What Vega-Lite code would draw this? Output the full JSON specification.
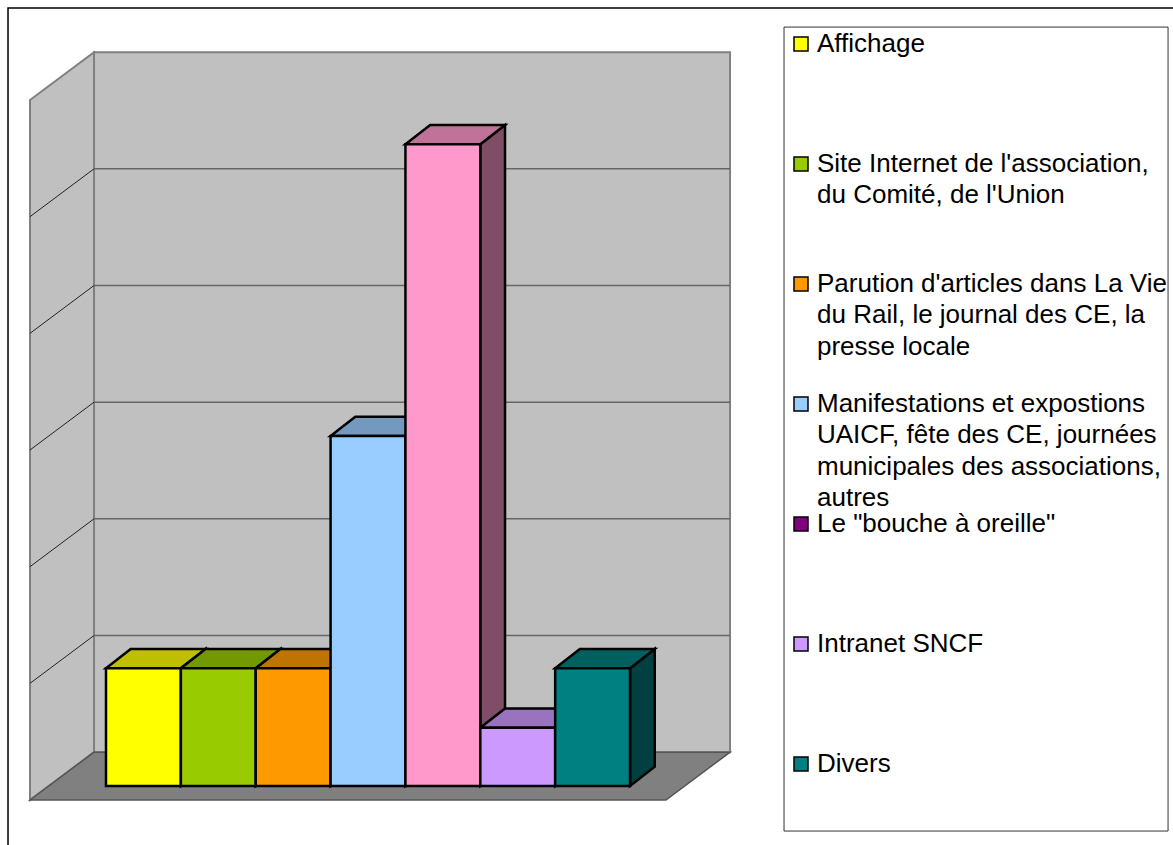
{
"$schema":"https://vega.github.io/schema/vega-lite/v6.json",
"width":1173,"height":845,"autosize":{"type":"none"},"padding":0,"background":"white",
"config":{"view":{"stroke":null},"style":{"guide-label":{"lineHeight":31.3,"dy":8}}},
"datasets":{
"bars":[
{"category":"Affichage","position":0,"end":1,"value":1.01},
{"category":"Site Internet de l'association,\ndu Comité, de l'Union","position":1,"end":2,"value":1.01},
{"category":"Parution d'articles dans La Vie\ndu Rail, le journal des CE, la\npresse locale","position":2,"end":3,"value":1.01},
{"category":"Manifestations et expostions\nUAICF, fête des CE, journées\nmunicipales des associations,\nautres","position":3,"end":4,"value":3},
{"category":"Le \"bouche à oreille\"","position":4,"end":5,"value":5.5},
{"category":"Intranet SNCF","position":5,"end":6,"value":0.5},
{"category":"Divers","position":6,"end":7,"value":1.01}
],
"side":[
{"c":"a","x":1,"hi":1.01,"lo":0},{"c":"a","x":1.33,"hi":1.175,"lo":0.165},
{"c":"b","x":2,"hi":1.01,"lo":0},{"c":"b","x":2.33,"hi":1.175,"lo":0.165},
{"c":"c","x":3,"hi":1.01,"lo":0},{"c":"c","x":3.33,"hi":1.175,"lo":0.165},
{"c":"d","x":4,"hi":3,"lo":0},{"c":"d","x":4.33,"hi":3.165,"lo":0.165},
{"c":"e","x":5,"hi":5.5,"lo":0},{"c":"e","x":5.33,"hi":5.665,"lo":0.165},
{"c":"f","x":6,"hi":0.5,"lo":0},{"c":"f","x":6.33,"hi":0.665,"lo":0.165},
{"c":"g","x":7,"hi":1.01,"lo":0},{"c":"g","x":7.33,"hi":1.175,"lo":0.165}
],
"top":[
{"c":"a","y":1.01,"x":0,"x2":1},{"c":"a","y":1.175,"x":0.33,"x2":1.33},
{"c":"b","y":1.01,"x":1,"x2":2},{"c":"b","y":1.175,"x":1.33,"x2":2.33},
{"c":"c","y":1.01,"x":2,"x2":3},{"c":"c","y":1.175,"x":2.33,"x2":3.33},
{"c":"d","y":3,"x":3,"x2":4},{"c":"d","y":3.165,"x":3.33,"x2":4.33},
{"c":"e","y":5.5,"x":4,"x2":5},{"c":"e","y":5.665,"x":4.33,"x2":5.33},
{"c":"f","y":0.5,"x":5,"x2":6},{"c":"f","y":0.665,"x":5.33,"x2":6.33},
{"c":"g","y":1.01,"x":6,"x2":7},{"c":"g","y":1.175,"x":6.33,"x2":7.33}
]
},
"encoding":{
"x":{"type":"quantitative","scale":{"domain":[-1.416,14.253],"nice":false,"zero":false},"axis":null},
"y":{"type":"quantitative","scale":{"domain":[-0.5057,6.737],"nice":false,"zero":false},"axis":null}
},
"layer":[
{"data":{"values":[{"x":-1.309,"x2":14.3,"y":6.668,"y2":-0.55}]},"mark":{"type":"rect","fill":"white","stroke":"black","strokeWidth":1.5},
 "encoding":{"x":{"field":"x"},"x2":{"field":"x2"},"y":{"field":"y"},"y2":{"field":"y2"}}},
{"data":{"values":[{"x":9.057,"x2":14.187,"y":6.505,"y2":-0.386}]},"mark":{"type":"rect","fill":"white","stroke":"#333333","strokeWidth":1},
 "encoding":{"x":{"field":"x"},"x2":{"field":"x2"},"y":{"field":"y"},"y2":{"field":"y2"}}},
{"data":{"name":"bars"},"mark":{"type":"rect"},
 "encoding":{"x":{"field":"position"},"x2":{"field":"end"},"y":{"field":"value"},"y2":{"datum":0},
  "fill":{"field":"category","type":"nominal","sort":null,
   "scale":{"domain":["Affichage","Site Internet de l'association,\ndu Comité, de l'Union","Parution d'articles dans La Vie\ndu Rail, le journal des CE, la\npresse locale","Manifestations et expostions\nUAICF, fête des CE, journées\nmunicipales des associations,\nautres","Le \"bouche à oreille\"","Intranet SNCF","Divers"],
    "range":["#FFFF00","#99CC00","#FF9900","#99CCFF","#800080","#CC99FF","#008080"]},
   "legend":{"orient":"none","legendX":788,"legendY":31,"title":null,"padding":0,"symbolType":"square","symbolSize":196,"symbolStrokeColor":"black","symbolStrokeWidth":1.5,"symbolOpacity":1,"gridAlign":"all","rowPadding":0,"labelFont":"Liberation Sans","labelFontSize":26,"labelColor":"black","labelLimit":400,"labelOffset":3,"labelBaseline":"alphabetic","labelExpr":"split(datum.label,'\\n')"}}}},
{"data":{"values":[{"x":-1.015,"y":5.88,"y2":-0.12},{"x":-0.16,"y":6.29,"y2":0.29}]},"mark":{"type":"area","fill":"#C0C0C0","stroke":"#808080","strokeWidth":2},
 "encoding":{"x":{"field":"x"},"y":{"field":"y"},"y2":{"field":"y2"}}},
{"data":{"values":[{"x":-0.16,"x2":8.336,"y":6.29,"y2":0.29}]},"mark":{"type":"rect","fill":"#C0C0C0","stroke":"#808080","strokeWidth":2},
 "encoding":{"x":{"field":"x"},"x2":{"field":"x2"},"y":{"field":"y"},"y2":{"field":"y2"}}},
{"data":{"values":[{"y":-0.12,"x":-1.015,"x2":7.48},{"y":0.29,"x":-0.16,"x2":8.336}]},"mark":{"type":"area","orient":"horizontal","fill":"#808080","stroke":"#555555","strokeWidth":1.5},
 "encoding":{"x":{"field":"x"},"x2":{"field":"x2"},"y":{"field":"y"}}},
{"data":{"values":[{"x":-0.16,"x2":8.336,"y":1.29},{"x":-0.16,"x2":8.336,"y":2.29},{"x":-0.16,"x2":8.336,"y":3.29},{"x":-0.16,"x2":8.336,"y":4.29},{"x":-0.16,"x2":8.336,"y":5.29}]},"mark":{"type":"rule","stroke":"#666666","strokeWidth":1.5},
 "encoding":{"x":{"field":"x"},"x2":{"field":"x2"},"y":{"field":"y"}}},
{"data":{"values":[{"x":-1.015,"x2":-0.16,"y":0.88,"y2":1.29},{"x":-1.015,"x2":-0.16,"y":1.88,"y2":2.29},{"x":-1.015,"x2":-0.16,"y":2.88,"y2":3.29},{"x":-1.015,"x2":-0.16,"y":3.88,"y2":4.29},{"x":-1.015,"x2":-0.16,"y":4.88,"y2":5.29}]},"mark":{"type":"rule","stroke":"#222222","strokeWidth":1},
 "encoding":{"x":{"field":"x"},"x2":{"field":"x2"},"y":{"field":"y"},"y2":{"field":"y2"}}},
{"data":{"name":"side"},"mark":{"type":"area","stroke":"black","strokeWidth":2.5},
 "encoding":{"x":{"field":"x"},"y":{"field":"hi"},"y2":{"field":"lo"},"detail":{"field":"c"},
  "fill":{"field":"c","type":"nominal","legend":null,"scale":{"domain":["a","b","c","d","e","f","g"],"range":["#808000","#4D6600","#804D00","#4D6680","#804D66","#664D80","#004040"]}}}},
{"data":{"name":"top"},"mark":{"type":"area","orient":"horizontal","stroke":"black","strokeWidth":2.5},
 "encoding":{"x":{"field":"x"},"x2":{"field":"x2"},"y":{"field":"y"},"detail":{"field":"c"},
  "fill":{"field":"c","type":"nominal","legend":null,"scale":{"domain":["a","b","c","d","e","f","g"],"range":["#BFBF00","#739900","#BF7300","#7399BF","#BF7399","#9973BF","#006060"]}}}},
{"data":{"name":"bars"},"mark":{"type":"rect","stroke":"black","strokeWidth":2.5},
 "encoding":{"x":{"field":"position"},"x2":{"field":"end"},"y":{"field":"value"},"y2":{"datum":0},
  "fill":{"field":"position","type":"nominal","legend":null,"scale":{"domain":[0,1,2,3,4,5,6],"range":["#FFFF00","#99CC00","#FF9900","#99CCFF","#FF99CC","#CC99FF","#008080"]}}}}
],
"resolve":{"scale":{"fill":"independent"}}
}
